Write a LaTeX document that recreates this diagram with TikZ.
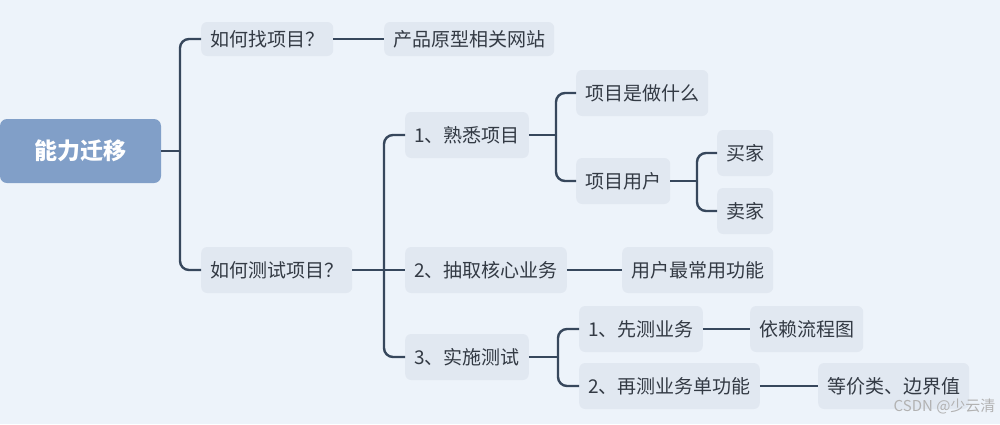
\documentclass[tikz,border=0pt]{standalone}
\usepackage{fontspec}
\setmainfont{Noto Sans CJK SC}
\definecolor{bg}{HTML}{EDF3FA}
\definecolor{nodebg}{HTML}{E1E8F1}
\definecolor{rootbg}{HTML}{819FC8}
\definecolor{line}{HTML}{37475C}
\definecolor{txt}{HTML}{333A44}
\begin{document}
\begin{tikzpicture}[x=1pt,y=-1pt,
  topic/.style={fill=nodebg,rounded corners=6pt,inner xsep=9pt,inner ysep=6pt,text=txt,font=\fontsize{19}{22}\selectfont,anchor=west,minimum height=46pt},
  rootnode/.style={fill=rootbg,rounded corners=7pt,text=white,font=\fontsize{23}{27}\selectfont\bfseries,minimum width=161pt,minimum height=64pt},
  conn/.style={draw=line,line width=2.4pt,rounded corners=9pt}]
\fill[bg] (0,0) rectangle (1000,424);
\useasboundingbox (0,0) rectangle (1000,424);
\node[rootnode] (root) at (80.5,151) {能力迁移};
\node[topic,minimum height=34pt] (a) at (201,39) {如何找项目？};
\node[topic,minimum height=34pt] (a1) at (384,39) {产品原型相关网站};
\node[topic] (b) at (201,270) {如何测试项目？};
\node[topic] (b1) at (405,135) {1、熟悉项目};
\node[topic] (b11) at (576,93) {项目是做什么};
\node[topic] (b12) at (576,181) {项目用户};
\node[topic] (b121) at (717,153) {买家};
\node[topic] (b122) at (717,211) {卖家};
\node[topic] (b2) at (405,270) {2、抽取核心业务};
\node[topic] (b21) at (622,270) {用户最常用功能};
\node[topic] (b3) at (405,357) {3、实施测试};
\node[topic] (b31) at (579,329) {1、先测业务};
\node[topic] (b311) at (750,329) {依赖流程图};
\node[topic] (b32) at (579,386) {2、再测业务单功能};
\node[topic] (b321) at (818,386) {等价类、边界值};
\node[text=gray!60,font=\fontsize{15}{17}\selectfont,anchor=east] (wm) at (999,406) {CSDN @少云清};
\coordinate (j0) at (180,151);
\coordinate (j1) at (384,270);
\coordinate (j2) at (556,135);
\coordinate (j3) at (697,181);
\coordinate (j4) at (558,357);
\draw[conn] (root.east) -- (j0);
\draw[conn] (j0) |- (a.west);
\draw[conn] (j0) |- (b.west);
\draw[conn] (a.east) -- (a1.west);
\draw[conn] (b.east) -- (j1);
\draw[conn] (j1) |- (b1.west);
\draw[conn] (j1) -- (b2.west);
\draw[conn] (j1) |- (b3.west);
\draw[conn] (b1.east) -- (j2);
\draw[conn] (j2) |- (b11.west);
\draw[conn] (j2) |- (b12.west);
\draw[conn] (b12.east) -- (j3);
\draw[conn] (j3) |- (b121.west);
\draw[conn] (j3) |- (b122.west);
\draw[conn] (b2.east) -- (b21.west);
\draw[conn] (b3.east) -- (j4);
\draw[conn] (j4) |- (b31.west);
\draw[conn] (j4) |- (b32.west);
\draw[conn] (b31.east) -- (b311.west);
\draw[conn] (b32.east) -- (b321.west);
\end{tikzpicture}
\end{document}
